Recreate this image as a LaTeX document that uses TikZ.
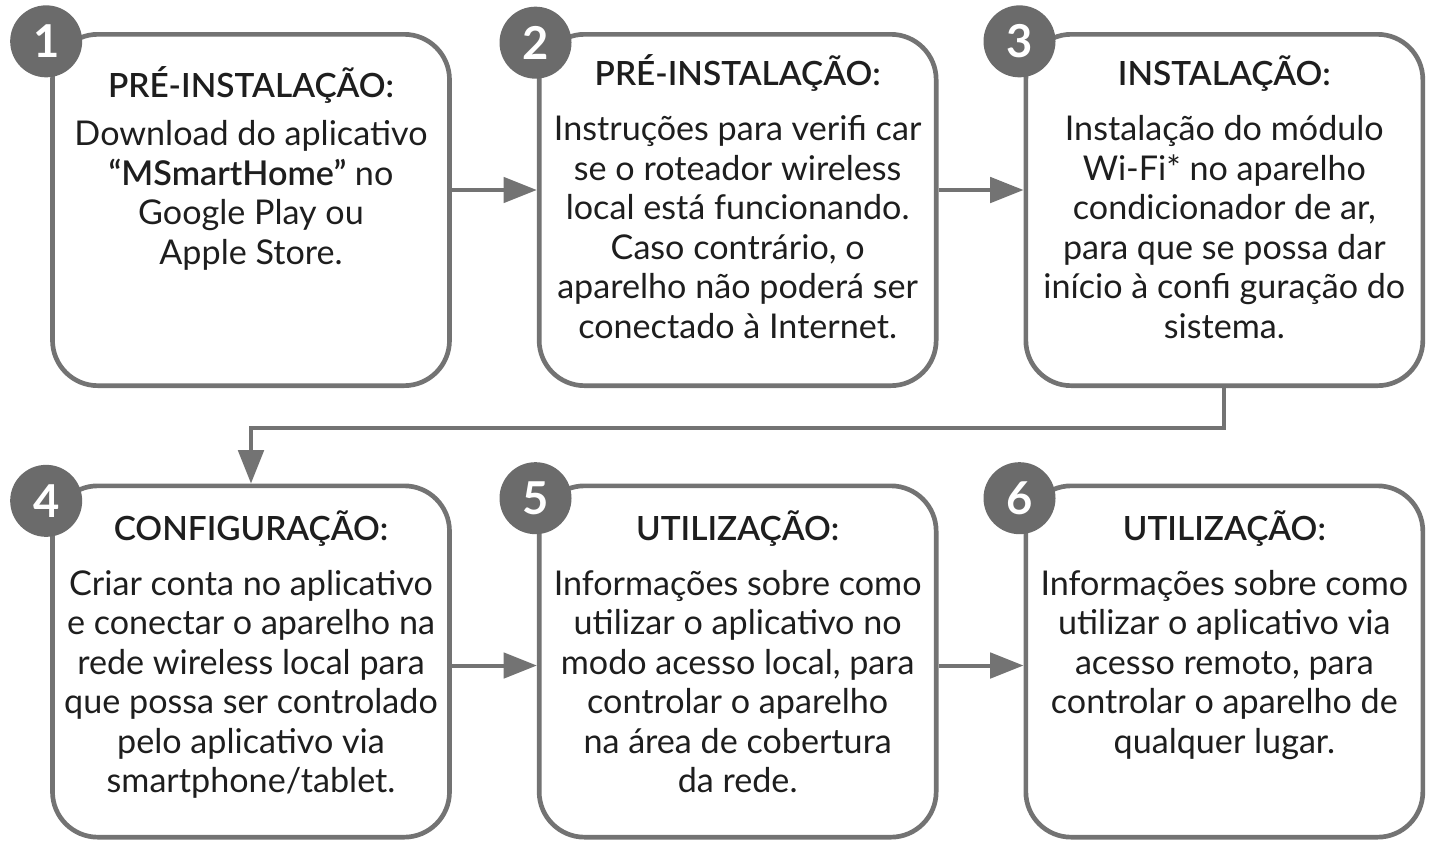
\documentclass[tikz,border=0pt]{standalone}
\usepackage{fontspec}
\setmainfont{Lato}
\newfontfamily\headfont{Lato}[UprightFont={* Semibold}]
\usetikzlibrary{arrows.meta,positioning}
\definecolor{LineGray}{HTML}{737373}
\definecolor{DiscGray}{HTML}{6B6B6B}
\definecolor{Ink}{HTML}{1E1E1E}

\begin{document}
\begin{tikzpicture}[
    x=0.75pt, y=-0.75pt,
    box/.style={draw=LineGray, line width=3.5pt, rounded corners=34pt,
                minimum width=297.75pt, minimum height=263.5pt, fill=white},
    num/.style={circle, fill=DiscGray, minimum size=54pt, inner sep=0pt,
                text=white, font=\fontsize{34}{34}\selectfont\bfseries},
    head/.style={anchor=base, text=Ink, inner sep=0pt,
                 font=\fontsize{25}{30}\selectfont\headfont},
    txt/.style={anchor=north, align=center, text=Ink, inner sep=0pt,
                font=\fontsize{25.6}{29.6}\selectfont},
    arr/.style={draw=LineGray, line width=3pt,
                -{Triangle[length=25pt, width=19pt]}},
    node distance=63.75pt
  ]
    \useasboundingbox (0,0) rectangle (1437,851);

    % top row
    \node[box] (b1) at (251,210) {};
    \node[box, right=of b1] (b2) {};
    \node[box, right=of b2] (b3) {};
    % bottom row
    \node[box] (b4) at (251,661.5) {};
    \node[box, right=of b4] (b5) {};
    \node[box, right=of b5] (b6) {};

    \node[num] (n1) at ([xshift=-3pt, yshift=-7pt]b1.north west) {1};
    \node[num] (n2) at ([xshift=-1pt, yshift=-8pt]b2.north west) {2};
    \node[num] (n3) at ([xshift=-3pt, yshift=-7pt]b3.north west) {3};
    \node[num] (n4) at ([xshift=-3pt, yshift=-13pt]b4.north west) {4};
    \node[num] (n5) at ([xshift=-1pt, yshift=-11pt]b5.north west) {5};
    \node[num] (n6) at ([xshift=-3pt, yshift=-11pt]b6.north west) {6};

    \node[head] (h1) at ([yshift=-49pt]b1.north) {PRÉ-INSTALAÇÃO:};
    \node[txt] (t1) at ([yshift=-64.3pt]b1.north)
      {\strut Download do aplicativo\\
       {\headfont “MSmartHome”} no\\
       Google Play ou\\
       Apple Store.};
    \node[head] (h2) at ([yshift=-40pt]b2.north) {PRÉ-INSTALAÇÃO:};
    \node[txt] (t2) at ([yshift=-60.7pt]b2.north)
      {\strut Instruções para verifi car\\
       se o roteador wireless\\
       local está funcionando.\\
       Caso contrário, o\\
       aparelho não poderá ser\\
       conectado à Internet.};
    \node[head] (h3) at ([yshift=-40pt]b3.north) {INSTALAÇÃO:};
    \node[txt] (t3) at ([yshift=-60.7pt]b3.north)
      {\strut Instalação do módulo\\
       Wi-Fi* no aparelho\\
       condicionador de ar,\\
       para que se possa dar\\
       início à confi guração do\\
       sistema.};
    \node[head] (h4) at ([yshift=-43pt]b4.north) {CONFIGURAÇÃO:};
    \node[txt] (t4) at ([yshift=-62.9pt]b4.north)
      {\strut Criar conta no aplicativo\\
       e conectar o aparelho na\\
       rede wireless local para\\
       que possa ser controlado\\
       pelo aplicativo via\\
       smartphone/tablet.};
    \node[head] (h5) at ([yshift=-43pt]b5.north) {UTILIZAÇÃO:};
    \node[txt] (t5) at ([yshift=-62.9pt]b5.north)
      {\strut Informações sobre como\\
       utilizar o aplicativo no\\
       modo acesso local, para\\
       controlar o aparelho\\
       na área de cobertura\\
       da rede.};
    \node[head] (h6) at ([yshift=-43pt]b6.north) {UTILIZAÇÃO:};
    \node[txt] (t6) at ([yshift=-62.9pt]b6.north)
      {\strut Informações sobre como\\
       utilizar o aplicativo via\\
       acesso remoto, para\\
       controlar o aparelho de\\
       qualquer lugar.};

    % connectors
    \draw[arr] ([yshift=15pt]b1.east) -- ([yshift=15pt]b2.west);
    \draw[arr] ([yshift=15pt]b2.east) -- ([yshift=15pt]b3.west);
    \draw[arr] (b3.south) -- ++(0,40) -| (b4.north);
    \draw[arr] ([yshift=-3pt]b4.east) -- ([yshift=-3pt]b5.west);
    \draw[arr] ([yshift=-3pt]b5.east) -- ([yshift=-3pt]b6.west);
  \end{tikzpicture}
\end{document}
